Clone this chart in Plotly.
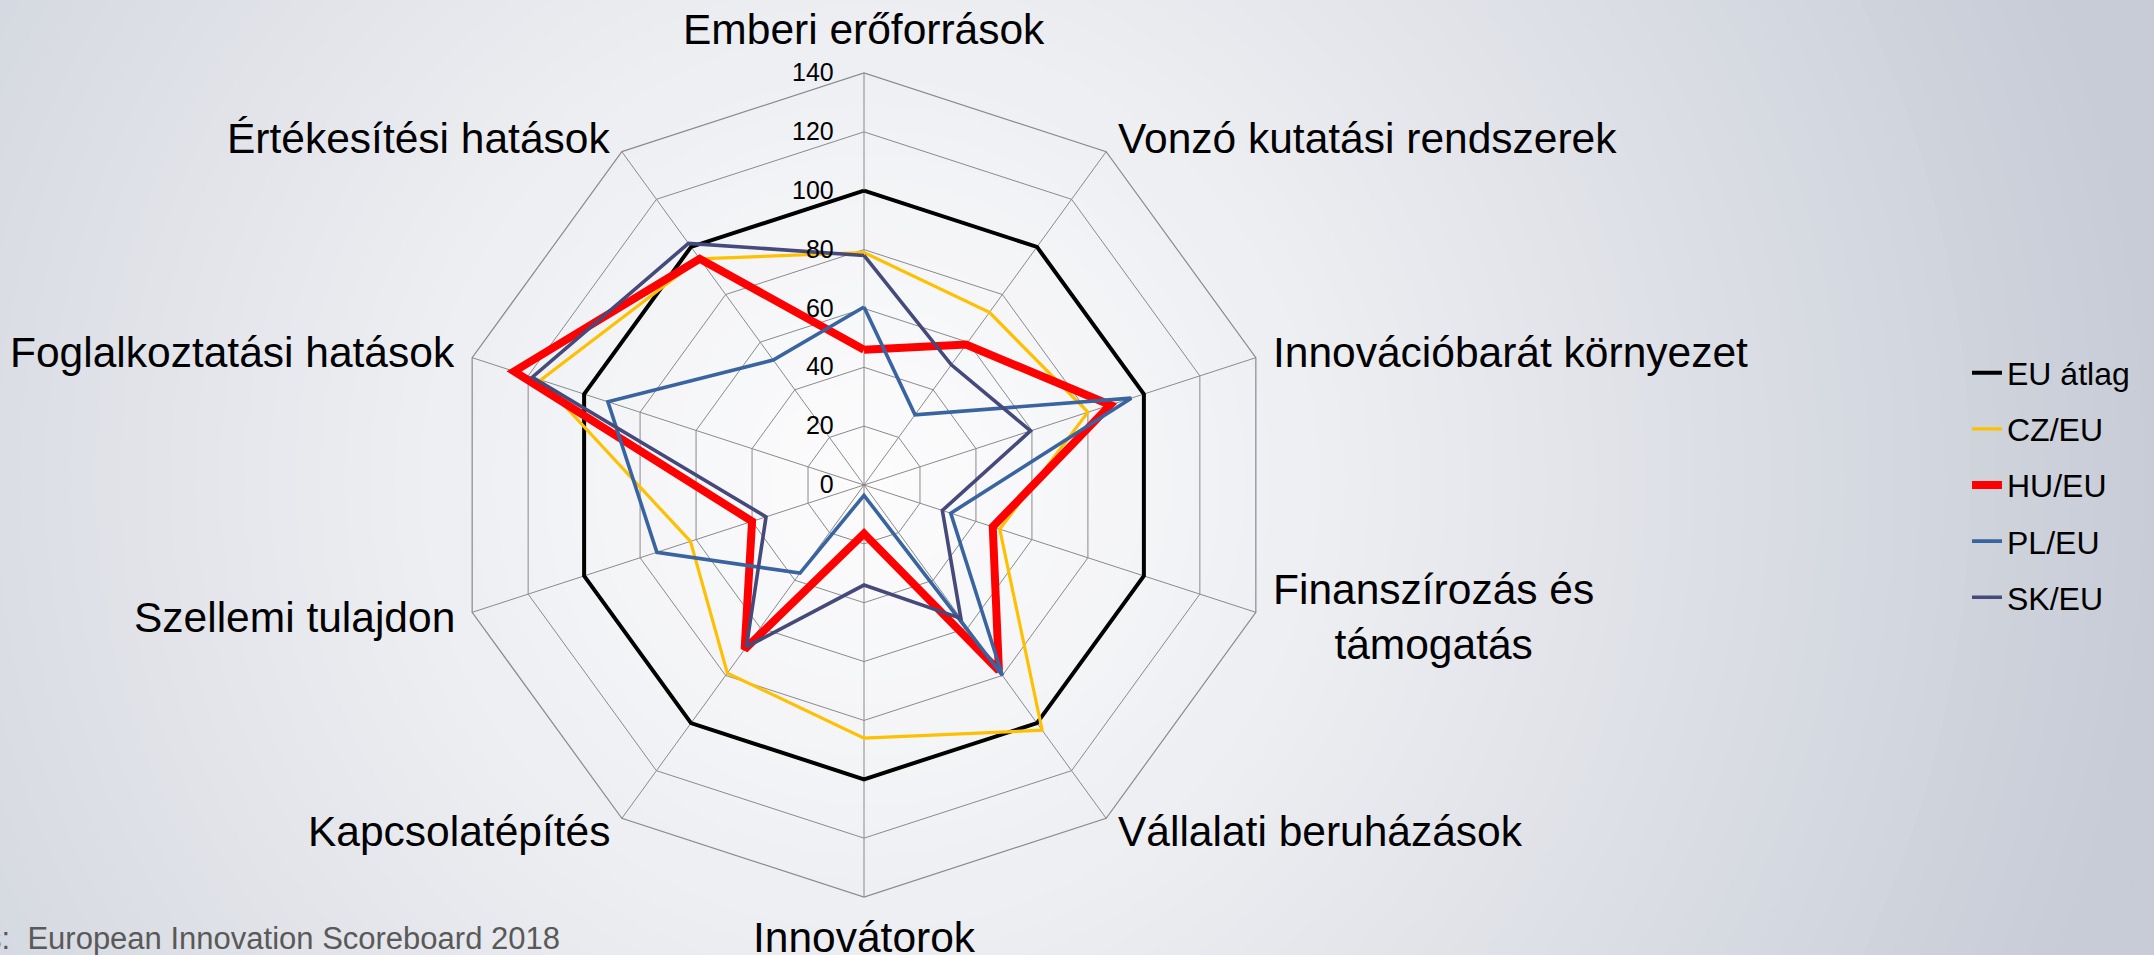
import math
import plotly.graph_objects as go

# ---------------- data ----------------
categories = [
    "Emberi erőforrások",
    "Vonzó kutatási rendszerek",
    "Innovációbarát környezet",
    "Finanszírozás és<br>támogatás",
    "Vállalati beruházások",
    "Innovátorok",
    "Kapcsolatépítés",
    "Szellemi tulajdon",
    "Foglalkoztatási hatások",
    "Értékesítési hatások",
]
eu_values = [100, 100, 100, 100, 100, 100, 100, 100, 100, 100]
cz_values = [79, 72.5, 80, 48.5, 103, 86, 79, 62, 115.5, 95]
hu_values = [46, 59, 88, 46, 78, 16.5, 69, 40, 125, 95]
pl_values = [60.5, 29.5, 95.5, 31, 80, 3.5, 37, 74, 91.5, 52.5]
sk_values = [78, 50.5, 59.5, 28, 56, 34, 68, 35, 118.5, 101.5]
series_names = ["EU átlag", "CZ/EU", "HU/EU", "PL/EU", "SK/EU"]
radial_tickvals = [0, 20, 40, 60, 80, 100, 120, 140]
source_text = "Forrás:\u00a0\u00a0European Innovation Scoreboard 2018"

# ---------------- style ----------------
W, H = 2154, 955
FONT = "Arial, 'Liberation Sans', sans-serif"
colors = ["#000000", "#FFC000", "#FF0000", "#3A64A0", "#464A7A"]
widths = [4, 3.2, 8, 3.6, 3.6]
all_values = [eu_values, cz_values, hu_values, pl_values, sk_values]

fig = go.Figure()

# background radial gradient (concentric bands)
cx, cy = 870, 480
start = (252, 252, 253)
end = (199, 204, 214)
n_bands = 60
rmax = 1500
for i in range(n_bands):
    r = rmax * (n_bands - i) / n_bands
    t = min(r / 1300.0, 1.0) ** 1.2
    c = tuple(int(round(start[k] + (end[k] - start[k]) * t)) for k in range(3))
    fig.add_shape(
        type="circle", xref="paper", yref="paper", layer="below",
        x0=(cx - r) / W, x1=(cx + r) / W,
        y0=(H - cy - r) / H, y1=(H - cy + r) / H,
        fillcolor="rgb(%d,%d,%d)" % c, line=dict(width=0),
    )

for name, vals, col, w in zip(series_names, all_values, colors, widths):
    fig.add_trace(go.Scatterpolar(
        r=vals + vals[:1],
        theta=categories + categories[:1],
        mode="lines",
        name=name,
        legendgroup=name,
        line=dict(color=col, width=w),
        hoverinfo="skip",
    ))

# polar geometry (pixels)
cx_pol, cy_pol, R = 864, 485, 412

# category labels placed just outside each spoke of the polar grid
annotations = []
n = len(categories)
for i, cat in enumerate(categories):
    ang = math.radians(360.0 * i / n)
    s, c = math.sin(ang), math.cos(ang)
    if abs(s) < 0.1:
        g = 18 if c > 0 else 15
        px = cx_pol
        py = cy_pol - (R + g) * c
        xa = "center"
        ya = "bottom" if c > 0 else "top"
    else:
        g = 16
        px = cx_pol + (R + g) * s
        py = cy_pol - (R + g) * c
        xa = "left" if s > 0 else "right"
        ya = "middle"
    annotations.append(dict(
        text=cat, xref="paper", yref="paper", x=px / W, y=(H - py) / H,
        xanchor=xa, yanchor=ya, align="center", showarrow=False,
        font=dict(size=42.5, color="#000000", family=FONT),
    ))

annotations.append(dict(
    text=source_text, xref="paper", yref="paper",
    x=562 / W, y=(H - 938) / H, xanchor="right", yanchor="middle",
    showarrow=False, font=dict(size=31, color="#595959", family=FONT),
))

fig.update_layout(
    width=W, height=H,
    margin=dict(l=0, r=0, t=0, b=0),
    paper_bgcolor="rgb(205,210,219)",
    plot_bgcolor="rgba(0,0,0,0)",
    font=dict(family=FONT, color="#000000"),
    polar=dict(
        domain=dict(x=[(cx_pol - R) / W, (cx_pol + R) / W],
                    y=[(H - cy_pol - R) / H, (H - cy_pol + R) / H]),
        bgcolor="rgba(0,0,0,0)",
        gridshape="linear",
        radialaxis=dict(
            range=[0, 140], tickvals=radial_tickvals,
            angle=90, side="counterclockwise", tickangle=90,
            showline=False,
            gridcolor="#8a8a8a", gridwidth=1.2,
            ticks="outside", ticklen=21, tickcolor="rgba(0,0,0,0)",
            tickfont=dict(size=25, color="#000000", family=FONT),
        ),
        angularaxis=dict(
            direction="clockwise", rotation=90,
            showline=True, linecolor="#8a8a8a", linewidth=1.2,
            gridcolor="#8a8a8a", gridwidth=1.2,
            ticks="", showticklabels=False,
        ),
    ),
    showlegend=True,
    legend=dict(
        x=1967 / W, y=(H - 485) / H, xanchor="left", yanchor="middle",
        bgcolor="rgba(0,0,0,0)",
        font=dict(size=32, family=FONT, color="#000000"),
        traceorder="grouped", tracegroupgap=11.5,
        itemwidth=30,
    ),
    annotations=annotations,
)

fig.write_html("out.html", config={"displayModeBar": False},
               post_script="document.body.style.margin='0';")
